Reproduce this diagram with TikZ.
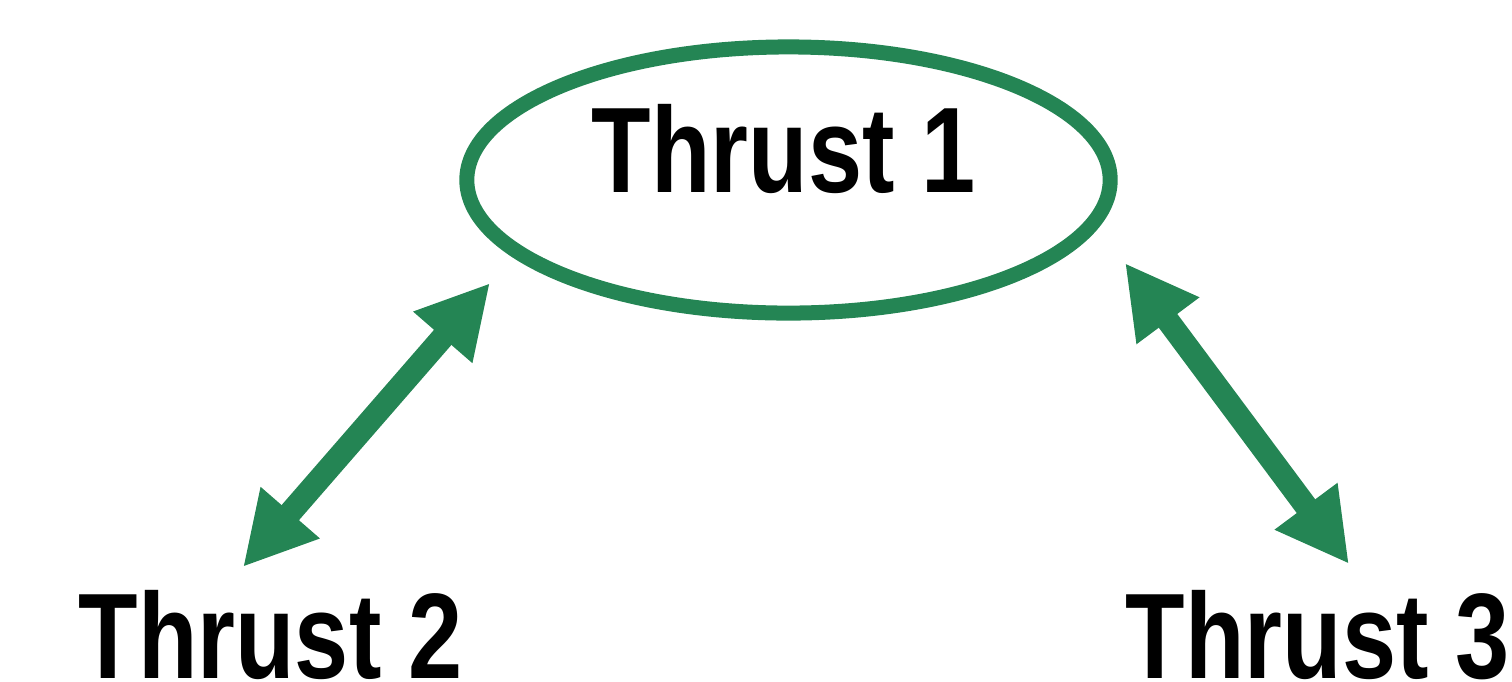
\documentclass[tikz,border=0pt]{standalone}
\usepackage{fontspec}
\newfontfamily\thrfont[FakeStretch=0.80]{Liberation Sans}
\usetikzlibrary{arrows.meta,shapes.geometric}
\definecolor{tgreen}{RGB}{36,133,84}
\tikzset{
  thrust/.style={font=\thrfont\bfseries\fontsize{34.6pt}{40pt}\selectfont, inner sep=0pt, anchor=base west, text=black},
  link/.style={draw=tgreen, line width=0.23cm, {Triangle[length=0.72cm,width=0.73cm]}-{Triangle[length=0.72cm,width=0.73cm]}},
  ring/.style={ellipse, draw=tgreen, line width=0.15cm, inner sep=0pt, minimum width=6.43cm, minimum height=2.66cm}
}
\begin{document}
\begin{tikzpicture}[x=0.01cm,y=-0.01cm]
\useasboundingbox (0,0) rectangle (1512,681);
\node[ring] (e1) at (788.5,180) {};
\node[thrust] (t1) at (591,192) {Thrust 1};
\node[thrust] (t2) at (78,678) {Thrust 2};
\node[thrust] (t3) at (1125,678) {Thrust 3};
\coordinate (l1) at (243,567);
\coordinate (l2) at (490,283);
\coordinate (r1) at (1125,263);
\coordinate (r2) at (1349,564);
\draw[link] (l1) -- (l2);
\draw[link] (r1) -- (r2);
\end{tikzpicture}
\end{document}
